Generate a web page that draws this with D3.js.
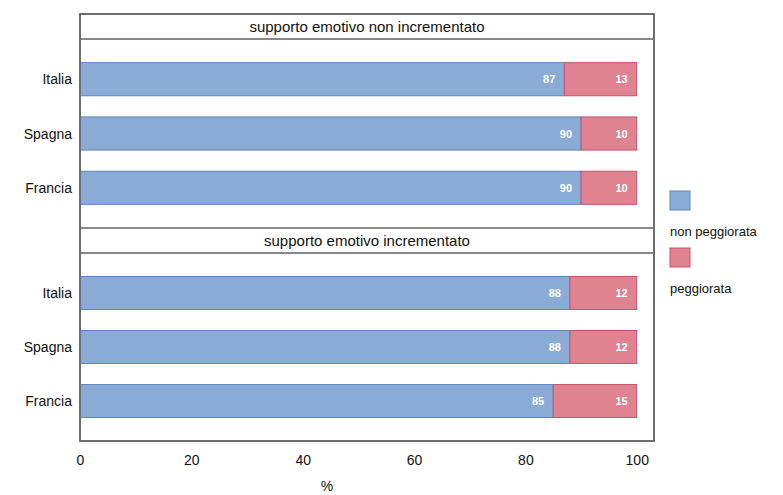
<!DOCTYPE html>
<html><head><meta charset="utf-8">
<script src="https://cdn.jsdelivr.net/npm/d3@7"></script>
<style>body{margin:0;background:#fff}svg{display:block}text{font-family:"Liberation Sans",Arial,sans-serif}</style>
</head><body><svg id="c" width="783" height="495"></svg>
<script>
const panels = ["supporto emotivo non incrementato", "supporto emotivo incrementato"];
const countries = ["Italia", "Spagna", "Francia"];
const nonPeggiorata = [[87, 90, 90], [88, 88, 85]];
const peggiorata = [[13, 10, 10], [12, 12, 15]];
const xTicks = [0, 20, 40, 60, 80, 100];
const seriesNames = ["non peggiorata", "peggiorata"];
const colors = ["#8aabd6", "#e08290"];
const strokes = ["#5f84bd", "#c4546c"];

const svg = d3.select("#c");
const L = 80, R = 654, T = 14, B = 441;
const x = d3.scaleLinear().domain([0, 103.1]).range([L, R]);
const stripH = 25;
const panelTops = [T, 228];
const panelBottoms = [228, B];

svg.append("rect").attr("x", L).attr("y", T).attr("width", R - L).attr("height", B - T)
  .attr("fill", "#fff").attr("stroke", "#666").attr("stroke-width", 1.5);

panels.forEach((p, i) => {
  const top = panelTops[i];
  const bodyTop = top + stripH;
  const bodyBot = panelBottoms[i];
  svg.append("rect").attr("x", L).attr("y", top).attr("width", R - L).attr("height", stripH)
    .attr("fill", "#fff").attr("stroke", "#888").attr("stroke-width", 2);
  svg.append("text").attr("x", (L + R) / 2).attr("y", top + stripH / 2 + 5)
    .attr("text-anchor", "middle").attr("font-size", 15).attr("fill", "#111").text(p);
  const y = d3.scaleBand().domain(countries).range([bodyTop, bodyBot])
    .paddingInner(0.39).paddingOuter(0.435);
  const g = svg.append("g");
  countries.forEach((c, j) => {
    const vals = [nonPeggiorata[i][j], peggiorata[i][j]];
    let acc = 0;
    vals.forEach((v, k) => {
      const x0 = x(acc), x1 = x(acc + v);
      g.append("rect").attr("x", x0).attr("y", y(c)).attr("width", x1 - x0).attr("height", y.bandwidth())
        .attr("fill", colors[k]).attr("stroke", strokes[k]).attr("stroke-width", 1);
      g.append("text").attr("x", x1 - 9).attr("y", y(c) + y.bandwidth() / 2 + 4)
        .attr("text-anchor", "end").attr("font-size", 11).attr("font-weight", "bold")
        .attr("fill", "#fff").text(v);
      acc += v;
    });
    svg.append("text").attr("x", 72).attr("y", y(c) + y.bandwidth() / 2 + 5)
      .attr("text-anchor", "end").attr("font-size", 14).attr("fill", "#111").text(c);
  });
});
svg.append("rect").attr("x", L).attr("y", T).attr("width", R - L).attr("height", B - T)
  .attr("fill", "none").attr("stroke", "#666").attr("stroke-width", 1.5);

const ax = svg.append("g").attr("transform", `translate(0,${B})`)
  .call(d3.axisBottom(x).tickValues(xTicks).tickSize(0).tickPadding(14));
ax.select(".domain").remove();
ax.selectAll("text").attr("font-size", 14).attr("fill", "#111")
  .style("font-family", '"Liberation Sans",Arial,sans-serif');
svg.append("text").attr("x", 327).attr("y", 491).attr("text-anchor", "middle")
  .attr("font-size", 14).attr("fill", "#111").text("%");

const legY = [191, 248];
seriesNames.forEach((s, k) => {
  svg.append("rect").attr("x", 670).attr("y", legY[k]).attr("width", 20).attr("height", 19)
    .attr("fill", colors[k]).attr("stroke", strokes[k]).attr("stroke-width", 1);
  svg.append("text").attr("x", 670).attr("y", legY[k] + 45).attr("font-size", 13)
    .attr("fill", "#111").text(s);
});
</script></body></html>
